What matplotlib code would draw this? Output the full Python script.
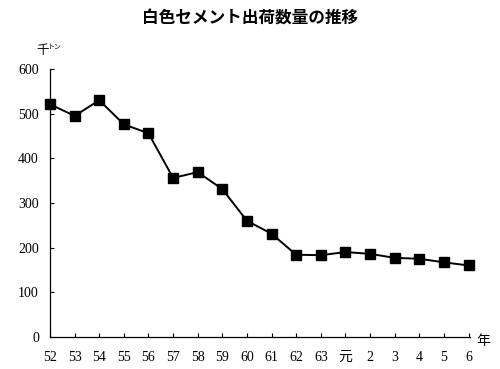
import matplotlib.pyplot as plt

# 白色セメント出荷数量（千トン）
years = ['52', '53', '54', '55', '56', '57', '58', '59', '60', '61',
         '62', '63', '元', '2', '3', '4', '5', '6']
values = [521, 495, 530, 476, 456, 356, 369, 331, 260, 231,
          184, 183, 190, 186, 177, 175, 167, 160]
yticks = [0, 100, 200, 300, 400, 500, 600]

fonts = ['Liberation Serif', 'Noto Sans CJK JP']

fig = plt.figure(figsize=(5, 3.69), dpi=100)
ax = fig.add_axes([0.1, 0.087, 0.84, 0.726])

x = list(range(len(years)))
ax.plot(x, values, color='black', lw=1.4, marker='s', markersize=6.5,
        clip_on=False, zorder=3)

ax.set_xlim(0, len(years) - 1 + 0.06)
ax.set_ylim(0, 600)
ax.set_xticks(x)
ax.set_xticklabels(years, family=fonts, fontsize=10)
ax.set_yticks(yticks)
ax.set_yticklabels([str(v) for v in yticks], family=fonts, fontsize=10)
ax.tick_params(direction='in', length=3, width=0.8, pad=10)
ax.tick_params(axis='y', pad=8)

for s in ['top', 'right']:
    ax.spines[s].set_visible(False)
for s in ['left', 'bottom']:
    ax.spines[s].set_linewidth(0.9)

fig.text(0.5, 0.952, '白色セメント出荷数量の推移', ha='center', va='center',
         family='Noto Sans CJK JP', fontweight='bold', fontsize=12)
fig.text(0.072, 0.862, '千', family='Noto Sans CJK JP', fontsize=9,
         ha='left', va='center')
fig.text(0.095, 0.872, 'トン', family='Noto Sans CJK JP', fontsize=5,
         ha='left', va='center')
fig.text(0.952, 0.077, '年', family='Noto Sans CJK JP', fontsize=10,
         ha='left', va='center')

fig.savefig('out.png', dpi=100)
